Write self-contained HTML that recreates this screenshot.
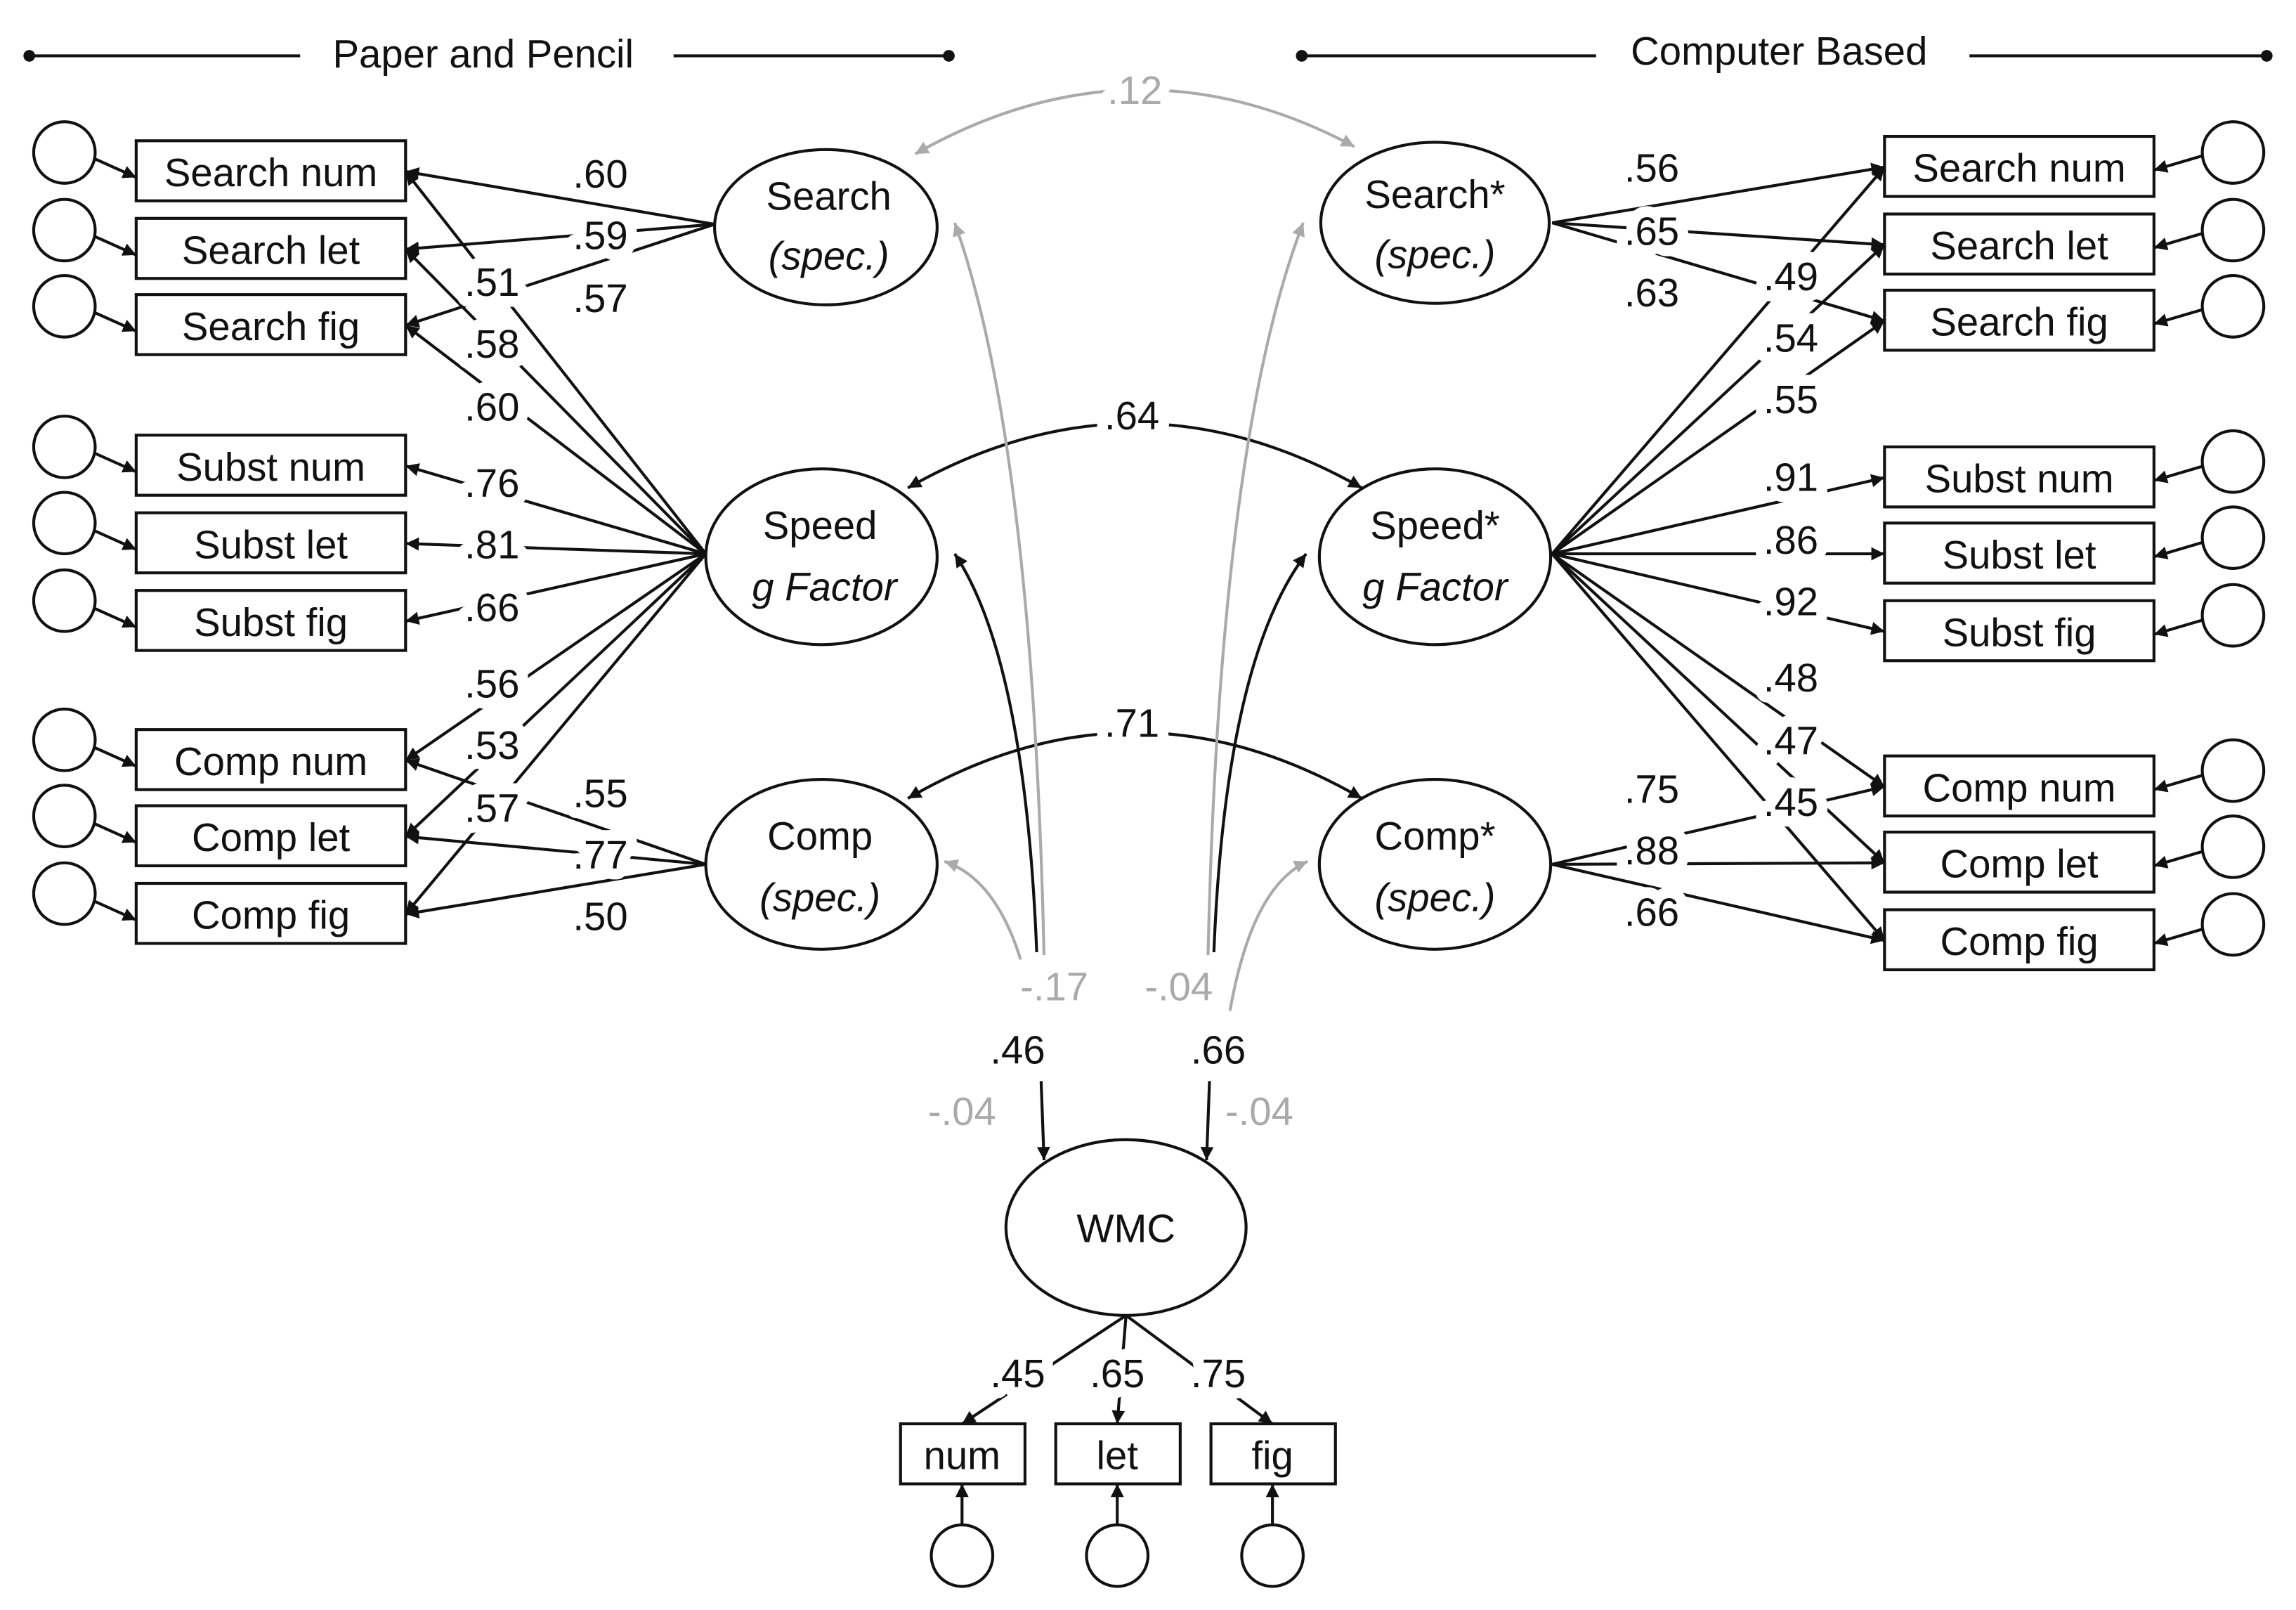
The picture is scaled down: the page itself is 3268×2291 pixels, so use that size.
<!DOCTYPE html>
<html><head><meta charset="utf-8"><style>
html,body{margin:0;padding:0;background:#fff;}
svg{display:block;}
text{font-family:"Liberation Sans",sans-serif;font-size:27px;fill:#111;}
.l{paint-order:stroke;stroke:#fff;stroke-width:15px;stroke-linejoin:round;text-anchor:middle;}
.g{fill:#aaa;}
.c{text-anchor:middle;}
</style></head><body>
<svg width="3268" height="2291" viewBox="0 0 1568 1099" xmlns="http://www.w3.org/2000/svg">
<defs>
<marker id="a" viewBox="0 0 10 10" refX="10" refY="5" markerWidth="10" markerHeight="9" orient="auto-start-reverse" markerUnits="userSpaceOnUse"><path d="M0,0L10,5L0,10z" fill="#111"/></marker>
<marker id="ag" viewBox="0 0 10 10" refX="10" refY="5" markerWidth="10" markerHeight="9" orient="auto-start-reverse" markerUnits="userSpaceOnUse"><path d="M0,0L10,5L0,10z" fill="#aaa"/></marker>
</defs>

<g stroke="#111" stroke-width="2">
<line x1="20" y1="38" x2="205" y2="38"/><line x1="460" y1="38" x2="648" y2="38"/>
<line x1="889" y1="38" x2="1090" y2="38"/><line x1="1345" y1="38" x2="1548" y2="38"/>
</g>
<circle cx="20" cy="38" r="4" fill="#111"/><circle cx="648" cy="38" r="4" fill="#111"/>
<circle cx="889" cy="38" r="4" fill="#111"/><circle cx="1548" cy="38" r="4" fill="#111"/>
<text x="330" y="46" class="c">Paper and Pencil</text>
<text x="1215" y="44" class="c">Computer Based</text>

<g fill="none" stroke="#111" stroke-width="2">
<line x1="488" y1="153" x2="277" y2="117" marker-end="url(#a)"/>
<line x1="488" y1="153" x2="277" y2="170" marker-end="url(#a)"/>
<line x1="488" y1="153" x2="277" y2="222" marker-end="url(#a)"/>
<line x1="482" y1="378" x2="277" y2="117" marker-end="url(#a)"/>
<line x1="482" y1="378" x2="277" y2="170" marker-end="url(#a)"/>
<line x1="482" y1="378" x2="277" y2="222" marker-end="url(#a)"/>
<line x1="482" y1="378" x2="277" y2="318" marker-end="url(#a)"/>
<line x1="482" y1="378" x2="277" y2="371" marker-end="url(#a)"/>
<line x1="482" y1="378" x2="277" y2="424" marker-end="url(#a)"/>
<line x1="482" y1="378" x2="277" y2="519" marker-end="url(#a)"/>
<line x1="482" y1="378" x2="277" y2="571" marker-end="url(#a)"/>
<line x1="482" y1="378" x2="277" y2="624" marker-end="url(#a)"/>
<line x1="482" y1="590" x2="277" y2="519" marker-end="url(#a)"/>
<line x1="482" y1="590" x2="277" y2="571" marker-end="url(#a)"/>
<line x1="482" y1="590" x2="277" y2="624" marker-end="url(#a)"/>
<line x1="1060" y1="152" x2="1287" y2="114" marker-end="url(#a)"/>
<line x1="1060" y1="152" x2="1287" y2="167" marker-end="url(#a)"/>
<line x1="1060" y1="152" x2="1287" y2="219" marker-end="url(#a)"/>
<line x1="1060" y1="378" x2="1287" y2="114" marker-end="url(#a)"/>
<line x1="1060" y1="378" x2="1287" y2="167" marker-end="url(#a)"/>
<line x1="1060" y1="378" x2="1287" y2="219" marker-end="url(#a)"/>
<line x1="1060" y1="378" x2="1287" y2="326" marker-end="url(#a)"/>
<line x1="1060" y1="378" x2="1287" y2="378" marker-end="url(#a)"/>
<line x1="1060" y1="378" x2="1287" y2="431" marker-end="url(#a)"/>
<line x1="1060" y1="378" x2="1287" y2="537" marker-end="url(#a)"/>
<line x1="1060" y1="378" x2="1287" y2="589" marker-end="url(#a)"/>
<line x1="1060" y1="378" x2="1287" y2="642" marker-end="url(#a)"/>
<line x1="1060" y1="590" x2="1287" y2="537" marker-end="url(#a)"/>
<line x1="1060" y1="590" x2="1287" y2="589" marker-end="url(#a)"/>
<line x1="1060" y1="590" x2="1287" y2="642" marker-end="url(#a)"/>

<line x1="64" y1="108" x2="93" y2="121" marker-end="url(#a)"/>
<line x1="64" y1="161" x2="93" y2="174" marker-end="url(#a)"/>
<line x1="64" y1="213" x2="93" y2="226" marker-end="url(#a)"/>
<line x1="64" y1="309" x2="93" y2="322" marker-end="url(#a)"/>
<line x1="64" y1="362" x2="93" y2="375" marker-end="url(#a)"/>
<line x1="64" y1="415" x2="93" y2="428" marker-end="url(#a)"/>
<line x1="64" y1="510" x2="93" y2="523" marker-end="url(#a)"/>
<line x1="64" y1="562" x2="93" y2="575" marker-end="url(#a)"/>
<line x1="64" y1="615" x2="93" y2="628" marker-end="url(#a)"/>
<line x1="1505" y1="106" x2="1471" y2="116" marker-end="url(#a)"/>
<line x1="1505" y1="159" x2="1471" y2="169" marker-end="url(#a)"/>
<line x1="1505" y1="211" x2="1471" y2="221" marker-end="url(#a)"/>
<line x1="1505" y1="318" x2="1471" y2="328" marker-end="url(#a)"/>
<line x1="1505" y1="370" x2="1471" y2="380" marker-end="url(#a)"/>
<line x1="1505" y1="423" x2="1471" y2="433" marker-end="url(#a)"/>
<line x1="1505" y1="529" x2="1471" y2="539" marker-end="url(#a)"/>
<line x1="1505" y1="581" x2="1471" y2="591" marker-end="url(#a)"/>
<line x1="1505" y1="634" x2="1471" y2="644" marker-end="url(#a)"/>

<path d="M620,333 Q775,245 930,333" marker-start="url(#a)" marker-end="url(#a)"/>
<path d="M620,545 Q775,455 930,545" marker-start="url(#a)" marker-end="url(#a)"/>
<path d="M708,650 Q700,450 652,378" marker-end="url(#a)"/>
<path d="M829,650 Q837,450 892,378" marker-end="url(#a)"/>
<line x1="711" y1="738" x2="713" y2="792" marker-end="url(#a)"/>
<line x1="826" y1="738" x2="824" y2="792" marker-end="url(#a)"/>
<line x1="769" y1="898" x2="657" y2="972" marker-end="url(#a)"/>
<line x1="769" y1="898" x2="763" y2="972" marker-end="url(#a)"/>
<line x1="769" y1="898" x2="869" y2="972" marker-end="url(#a)"/>
<line x1="657" y1="1041" x2="657" y2="1013" marker-end="url(#a)"/>
<line x1="763" y1="1041" x2="763" y2="1013" marker-end="url(#a)"/>
<line x1="869" y1="1041" x2="869" y2="1013" marker-end="url(#a)"/>
</g>

<g fill="none" stroke="#aaa" stroke-width="2">
<path d="M625,105 Q775,20 925,100" marker-start="url(#ag)" marker-end="url(#ag)"/>
<path d="M713,652 Q705,300 652,152" marker-end="url(#ag)"/>
<path d="M697,655 Q680,600 645,588" marker-end="url(#ag)"/>
<path d="M825,652 Q833,300 890,152" marker-end="url(#ag)"/>
<path d="M840,690 Q855,605 893,588" marker-end="url(#ag)"/>
</g>

<g>
<text class="l" x="410" y="128">.60</text>
<text class="l" x="410" y="170">.59</text>
<text class="l" x="410" y="213">.57</text>
<text class="l" x="336" y="202">.51</text>
<text class="l" x="336" y="244">.58</text>
<text class="l" x="336" y="287">.60</text>
<text class="l" x="336" y="339">.76</text>
<text class="l" x="336" y="381">.81</text>
<text class="l" x="336" y="424">.66</text>
<text class="l" x="336" y="476">.56</text>
<text class="l" x="336" y="518">.53</text>
<text class="l" x="336" y="561">.57</text>
<text class="l" x="410" y="551">.55</text>
<text class="l" x="410" y="593">.77</text>
<text class="l" x="410" y="635">.50</text>
<text class="l" x="1128" y="124">.56</text>
<text class="l" x="1128" y="167">.65</text>
<text class="l" x="1128" y="209">.63</text>
<text class="l" x="1223" y="198">.49</text>
<text class="l" x="1223" y="240">.54</text>
<text class="l" x="1223" y="282">.55</text>
<text class="l" x="1223" y="335">.91</text>
<text class="l" x="1223" y="378">.86</text>
<text class="l" x="1223" y="420">.92</text>
<text class="l" x="1223" y="472">.48</text>
<text class="l" x="1223" y="515">.47</text>
<text class="l" x="1223" y="557">.45</text>
<text class="l" x="1128" y="548">.75</text>
<text class="l" x="1128" y="590">.88</text>
<text class="l" x="1128" y="632">.66</text>
<text class="l" x="773" y="293">.64</text>
<text class="l" x="773" y="503">.71</text>
<text class="l g" x="775" y="71">.12</text>
<text class="l g" x="720" y="683">-.17</text>
<text class="l g" x="805" y="683">-.04</text>
<text class="l" x="695" y="726">.46</text>
<text class="l" x="832" y="726">.66</text>
<text class="l g" x="657" y="768">-.04</text>
<text class="l g" x="860" y="768">-.04</text>
<text class="l" x="695" y="947">.45</text>
<text class="l" x="763" y="947">.65</text>
<text class="l" x="832" y="947">.75</text>
</g>

<g fill="#fff" stroke="#111" stroke-width="2">
<rect x="93" y="96" width="184" height="41"/><rect x="93" y="149" width="184" height="41"/><rect x="93" y="201" width="184" height="41"/>
<rect x="93" y="297" width="184" height="41"/><rect x="93" y="350" width="184" height="41"/><rect x="93" y="403" width="184" height="41"/>
<rect x="93" y="498" width="184" height="41"/><rect x="93" y="550" width="184" height="41"/><rect x="93" y="603" width="184" height="41"/>
<rect x="1287" y="93" width="184" height="41"/><rect x="1287" y="146" width="184" height="41"/><rect x="1287" y="198" width="184" height="41"/>
<rect x="1287" y="305" width="184" height="41"/><rect x="1287" y="357" width="184" height="41"/><rect x="1287" y="410" width="184" height="41"/>
<rect x="1287" y="516" width="184" height="41"/><rect x="1287" y="568" width="184" height="41"/><rect x="1287" y="621" width="184" height="41"/>
<rect x="615" y="972" width="85" height="41"/><rect x="721" y="972" width="85" height="41"/><rect x="827" y="972" width="85" height="41"/>
</g>
<g fill="none" stroke="#111" stroke-width="2">
<circle cx="44" cy="104" r="21"/><circle cx="44" cy="157" r="21"/><circle cx="44" cy="209" r="21"/>
<circle cx="44" cy="305" r="21"/><circle cx="44" cy="357" r="21"/><circle cx="44" cy="410" r="21"/>
<circle cx="44" cy="505" r="21"/><circle cx="44" cy="557" r="21"/><circle cx="44" cy="610" r="21"/>
<circle cx="1525" cy="104" r="21"/><circle cx="1525" cy="157" r="21"/><circle cx="1525" cy="209" r="21"/>
<circle cx="1525" cy="315" r="21"/><circle cx="1525" cy="367" r="21"/><circle cx="1525" cy="420" r="21"/>
<circle cx="1525" cy="526" r="21"/><circle cx="1525" cy="578" r="21"/><circle cx="1525" cy="631" r="21"/>
<circle cx="657" cy="1062" r="21"/><circle cx="763" cy="1062" r="21"/><circle cx="869" cy="1062" r="21"/>
</g>
<g fill="#fff" stroke="#111" stroke-width="2">
<ellipse cx="564" cy="155" rx="76" ry="53"/>
<ellipse cx="561" cy="380" rx="79" ry="60"/>
<ellipse cx="561" cy="590" rx="79" ry="58"/>
<ellipse cx="980" cy="152" rx="78" ry="55"/>
<ellipse cx="980" cy="380" rx="79" ry="60"/>
<ellipse cx="980" cy="590" rx="79" ry="58"/>
<ellipse cx="769" cy="838" rx="82" ry="60"/>
</g>

<g>
<text class="c" x="185" y="127">Search num</text>
<text class="c" x="185" y="180">Search let</text>
<text class="c" x="185" y="232">Search fig</text>
<text class="c" x="185" y="328">Subst num</text>
<text class="c" x="185" y="381">Subst let</text>
<text class="c" x="185" y="434">Subst fig</text>
<text class="c" x="185" y="529">Comp num</text>
<text class="c" x="185" y="581">Comp let</text>
<text class="c" x="185" y="634">Comp fig</text>
<text class="c" x="1379" y="124">Search num</text>
<text class="c" x="1379" y="177">Search let</text>
<text class="c" x="1379" y="229">Search fig</text>
<text class="c" x="1379" y="336">Subst num</text>
<text class="c" x="1379" y="388">Subst let</text>
<text class="c" x="1379" y="441">Subst fig</text>
<text class="c" x="1379" y="547">Comp num</text>
<text class="c" x="1379" y="599">Comp let</text>
<text class="c" x="1379" y="652">Comp fig</text>
<text class="c" x="657" y="1003">num</text>
<text class="c" x="763" y="1003">let</text>
<text class="c" x="869" y="1003">fig</text>
<text class="c" x="566" y="143">Search</text>
<text class="c" x="566" y="184" font-style="italic">(spec.)</text>
<text class="c" x="560" y="368">Speed</text>
<text class="c" x="563" y="410" font-style="italic">g Factor</text>
<text class="c" x="560" y="580">Comp</text>
<text class="c" x="560" y="622" font-style="italic">(spec.)</text>
<text class="c" x="980" y="142">Search*</text>
<text class="c" x="980" y="183" font-style="italic">(spec.)</text>
<text class="c" x="980" y="368">Speed*</text>
<text class="c" x="980" y="410" font-style="italic">g Factor</text>
<text class="c" x="980" y="580">Comp*</text>
<text class="c" x="980" y="622" font-style="italic">(spec.)</text>
<text class="c" x="769" y="848">WMC</text>
</g>
</svg>
</body></html>
